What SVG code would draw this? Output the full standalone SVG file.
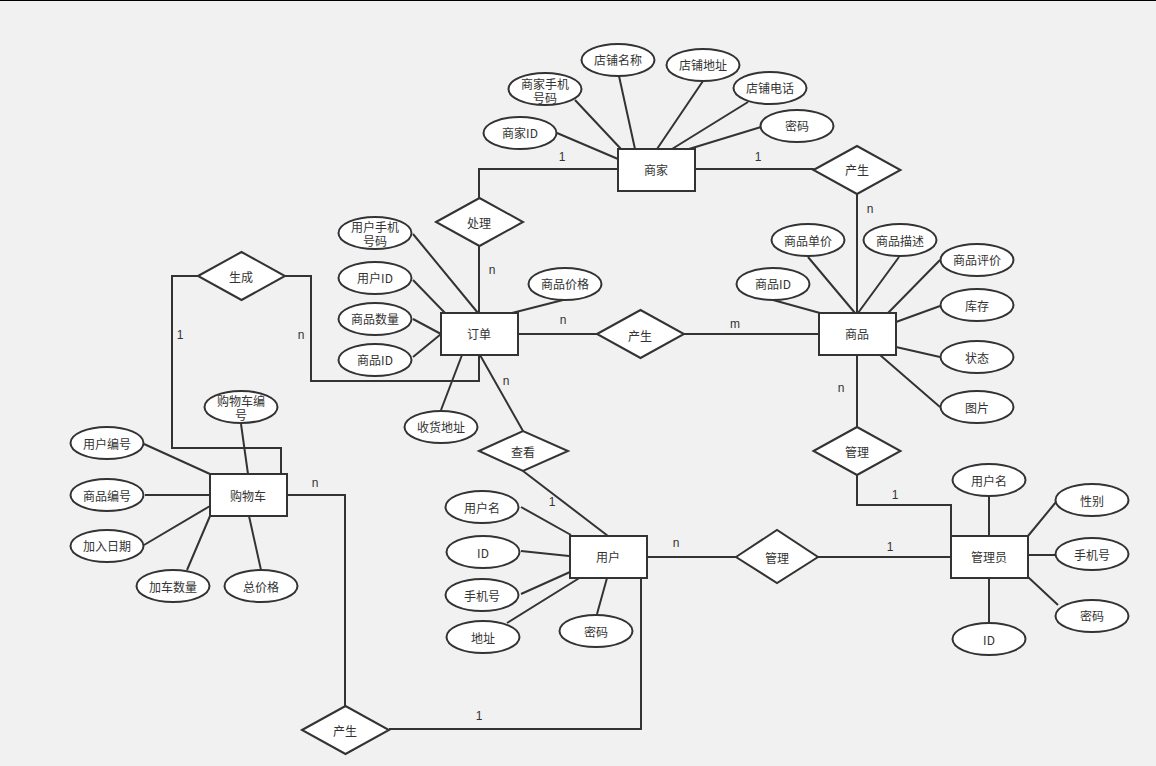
<svg xmlns="http://www.w3.org/2000/svg" width="1156" height="766" viewBox="0 0 1156 766">
<style>
text{font-family:"Noto Sans CJK SC","Liberation Sans",sans-serif;font-size:12px;fill:#333;text-anchor:middle;dominant-baseline:central}
text.l{font-family:"Liberation Sans",sans-serif}
ellipse,rect.e,polygon{stroke:#333;stroke-width:2;fill:#fff}
#connectors path{fill:none;stroke:#333;stroke-width:2}
</style>
<defs>
<ellipse id="el" rx="36.5" ry="16"/>
<rect id="ent" class="e" x="-38.5" y="-21" width="77" height="42"/>
<polygon id="dia" points="-43.5,0 0,-24 43.5,0 0,24"/>
</defs>
<rect width="1156" height="766" fill="#f1f1f1"/>
<rect width="1156" height="1" fill="#000"/>
<g id="connectors">
<path d="M557 133L618 159M575 100L621 149M619 76L635 149M703 81L657 149M748 102L672 149M761 127L689 149"/>
<path d="M695 169H814M857 194V313M618 169H479V198M479 246V313"/>
<path d="M413 234L478 313M413 280L445 313M413 319L441 334M413 357L441 334M563 300L512 313M462 355L441 410"/>
<path d="M518 334H597M684 334H819"/>
<path d="M480 355L523 431M523 471L608 536"/>
<path d="M808 257L855 313M899 257L858 313M940 260L888 313M940 306L896 322M940 357L896 347M940 407L880 355M773 300L820 313"/>
<path d="M857 355V427M857 475V505H951V536"/>
<path d="M647 557H736M818 557H951"/>
<path d="M989 496V536M1028 536L1056 502M1028 555H1055M1028 577L1058 605M989 578V623"/>
<path d="M521 507L571 535M521 551L569 556M521 594L570 572M507 623L581 577M597 614L607 578"/>
<path d="M641 578V729H389M345 706V495H287"/>
<path d="M144 444L210 474M145 495H210M144 545L210 506M187 570L210 516M249 516L261 570M241 424L248 474"/>
<path d="M281 474V448H172V276H198M285 276H311V381H479V355"/>
</g>
<g id="shop"><use href="#ent" x="656.5" y="170"/><text x="656" y="169">商家</text></g>
<g id="a1"><use href="#el" x="520" y="133"/><text x="520" y="132">商家ID</text></g>
<g id="a2"><use href="#el" x="545" y="89"/><text x="545"><tspan x="545" y="83">商家手机</tspan><tspan x="545" y="97">号码</tspan></text></g>
<g id="a3"><use href="#el" x="618" y="60"/><text x="618" y="59">店铺名称</text></g>
<g id="a4"><use href="#el" x="703" y="65"/><text x="703" y="64">店铺地址</text></g>
<g id="a5"><use href="#el" x="770" y="88"/><text x="770" y="87">店铺电话</text></g>
<g id="a6"><use href="#el" x="797" y="126"/><text x="797" y="125">密码</text></g>
<g id="d1"><use href="#dia" x="857" y="170"/><text x="857" y="169">产生</text></g>
<g id="d2"><use href="#dia" x="479.5" y="222"/><text x="479" y="222">处理</text></g>
<g id="order"><use href="#ent" x="479.5" y="334"/><text x="479" y="333">订单</text></g>
<g id="o1"><use href="#el" x="375" y="233"/><text x="375"><tspan x="375" y="226">用户手机</tspan><tspan x="375" y="240">号码</tspan></text></g>
<g id="o2"><use href="#el" x="375" y="278"/><text x="375" y="277">用户ID</text></g>
<g id="o3"><use href="#el" x="375" y="319"/><text x="375" y="318">商品数量</text></g>
<g id="o4"><use href="#el" x="375" y="360"/><text x="375" y="359">商品ID</text></g>
<g id="o5"><use href="#el" x="565" y="284"/><text x="565" y="283">商品价格</text></g>
<g id="o6"><use href="#el" x="441" y="427"/><text x="441" y="426">收货地址</text></g>
<g id="d3"><use href="#dia" x="640.5" y="334"/><text x="640" y="335">产生</text></g>
<g id="goods"><use href="#ent" x="857.5" y="334"/><text x="857" y="333">商品</text></g>
<g id="g1"><use href="#el" x="773" y="284"/><text x="773" y="283">商品ID</text></g>
<g id="g2"><use href="#el" x="808" y="240"/><text x="808" y="240">商品单价</text></g>
<g id="g3"><use href="#el" x="900" y="240"/><text x="900" y="240">商品描述</text></g>
<g id="g4"><use href="#el" x="977" y="260"/><text x="977" y="259">商品评价</text></g>
<g id="g5"><use href="#el" x="977" y="305"/><text x="977" y="305">库存</text></g>
<g id="g6"><use href="#el" x="977" y="357"/><text x="977" y="357">状态</text></g>
<g id="g7"><use href="#el" x="977" y="407"/><text x="977" y="407">图片</text></g>
<g id="d4"><use href="#dia" x="857" y="451"/><text x="857" y="451">管理</text></g>
<g id="d5"><polygon points="736,557 777,530 818,557 777,583"/><text x="777" y="557">管理</text></g>
<g id="admin"><use href="#ent" x="989.5" y="557"/><text x="989" y="556">管理员</text></g>
<g id="m1"><use href="#el" x="989" y="480"/><text x="989" y="480">用户名</text></g>
<g id="m2"><use href="#el" x="1092" y="500"/><text x="1092" y="500">性别</text></g>
<g id="m3"><use href="#el" x="1092" y="554"/><text x="1092" y="554">手机号</text></g>
<g id="m4"><use href="#el" x="1092" y="616"/><text x="1092" y="615">密码</text></g>
<g id="m5"><use href="#el" x="989" y="639"/><text x="989" y="639">ID</text></g>
<g id="user"><use href="#ent" x="608.5" y="557"/><text x="608" y="556">用户</text></g>
<g id="u1"><use href="#el" x="482" y="507"/><text x="482" y="507">用户名</text></g>
<g id="u2"><use href="#el" x="483" y="552"/><text x="483" y="552">ID</text></g>
<g id="u3"><use href="#el" x="482" y="595"/><text x="482" y="595">手机号</text></g>
<g id="u4"><use href="#el" x="483" y="637"/><text x="483" y="637">地址</text></g>
<g id="u5"><use href="#el" x="596" y="631"/><text x="596" y="631">密码</text></g>
<g id="d6"><polygon points="479,451 523,431 568,451 523,471"/><text x="523" y="451">查看</text></g>
<g id="cart"><use href="#ent" x="248.5" y="495"/><text x="248" y="495">购物车</text></g>
<g id="c1"><use href="#el" x="241" y="407"/><text x="241"><tspan x="241" y="400">购物车编</tspan><tspan x="241" y="414">号</tspan></text></g>
<g id="c2"><use href="#el" x="107" y="443"/><text x="107" y="443">用户编号</text></g>
<g id="c3"><use href="#el" x="107" y="495"/><text x="107" y="495">商品编号</text></g>
<g id="c4"><use href="#el" x="107" y="546"/><text x="107" y="545">加入日期</text></g>
<g id="c5"><use href="#el" x="173" y="586"/><text x="173" y="586">加车数量</text></g>
<g id="c6"><use href="#el" x="261" y="586"/><text x="261" y="586">总价格</text></g>
<g id="d7"><use href="#dia" x="241.5" y="276"/><text x="241" y="276">生成</text></g>
<g id="d8"><use href="#dia" x="345.5" y="730"/><text x="345" y="730">产生</text></g>
<g id="labels">
<text class="l" x="562" y="157">1</text><text class="l" x="758" y="157">1</text><text class="l" x="870" y="209">n</text>
<text class="l" x="492" y="270">n</text><text class="l" x="563" y="320">n</text><text class="l" x="735" y="324">m</text>
<text class="l" x="301" y="335">n</text><text class="l" x="180" y="335">1</text><text class="l" x="506" y="381">n</text>
<text class="l" x="841" y="388">n</text><text class="l" x="895" y="495">1</text><text class="l" x="552" y="502">1</text>
<text class="l" x="676" y="543">n</text><text class="l" x="890" y="547">1</text><text class="l" x="315" y="483">n</text><text class="l" x="479" y="716">1</text>
</g>
</svg>
